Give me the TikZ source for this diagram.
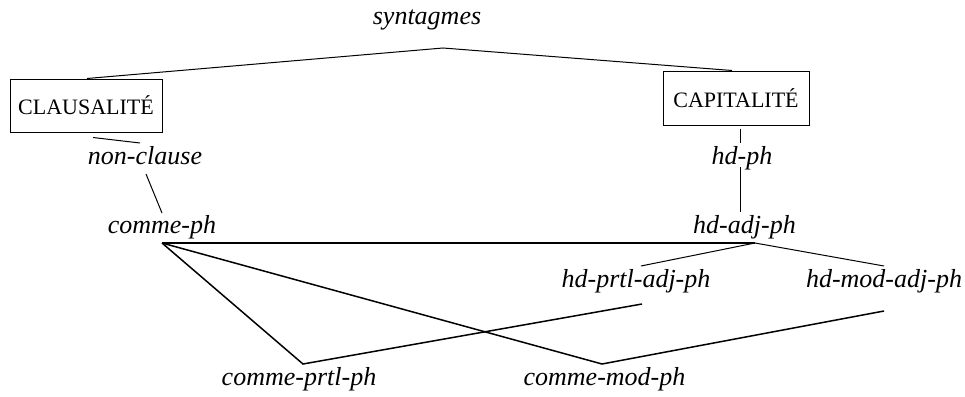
\documentclass[tikz,border=0pt]{standalone}
\usepackage{fontspec}
\setmainfont{Liberation Serif}
\usetikzlibrary{calc}
\begin{document}
\begin{tikzpicture}[x=1pt,y=-1pt,
  lbl/.style={anchor=base,inner sep=0pt,font=\fontsize{26}{30}\selectfont\itshape},
  boxed/.style={draw,line width=1pt,inner sep=0pt,font=\fontsize{22}{26}\selectfont},
  thin/.style={line width=1pt},
  thick/.style={line width=1.5pt,line join=miter}]
\useasboundingbox (0,0) rectangle (965,396);
\node[lbl] (syn) at (427,25) {syntagmes};
\node[boxed,minimum width=152pt,minimum height=53pt] (clau) at (86,105.5) {CLAUSALITÉ};
\node[boxed,minimum width=146pt,minimum height=54pt] (capi) at (736,98) {CAPITALITÉ};
\node[lbl] (nonc) at (145,164) {non-clause};
\node[lbl] (hdph) at (742,164) {hd-ph};
\node[lbl] (cph) at (162,233) {comme-ph};
\node[lbl] (hdadj) at (744.5,233) {hd-adj-ph};
\node[lbl] (hdprtl) at (636,287) {hd-prtl-adj-ph};
\node[lbl] (hdmod) at (884,287) {hd-mod-adj-ph};
\node[lbl] (cprtl) at (299,385) {comme-prtl-ph};
\node[lbl] (cmod) at (604.5,385) {comme-mod-ph};
% upper connectors
\draw[thin] ([xshift=1pt]clau.north) -- ($(syn.base)+(16,23)$) -- ([xshift=-4pt]capi.north);
\draw[thin] ($(clau.south)+(7,5)$) -- ($(nonc.base)+(-5,-21)$);
\draw[thin] ($(nonc.base)+(1,10)$) -- ($(cph.base)+(0,-20)$);
\draw[thin] ($(capi.south)+(4,3)$) -- ($(hdph.base)+(-2,-21)$);
\draw[thin] ($(hdph.base)+(-2,3)$) -- ($(hdadj.base)+(-4.5,-21)$);
% lower connectors
\draw[thick] ($(cph.base)+(0,10)$) -- ($(hdadj.base)+(10.5,10)$);
\draw[thin] ($(hdprtl.base)+(5,-21)$) -- ($(hdadj.base)+(10.5,10)$) -- ($(hdmod.base)+(0,-21)$);
\draw[thick] ($(cph.base)+(0,10)$) -- ($(cprtl.base)+(4,-21)$) -- ($(hdprtl.base)+(6,17)$);
\draw[thick] ($(cph.base)+(0,10)$) -- ($(cmod.base)+(-2.5,-21)$) -- ($(hdmod.base)+(0,24)$);
\end{tikzpicture}
\end{document}
